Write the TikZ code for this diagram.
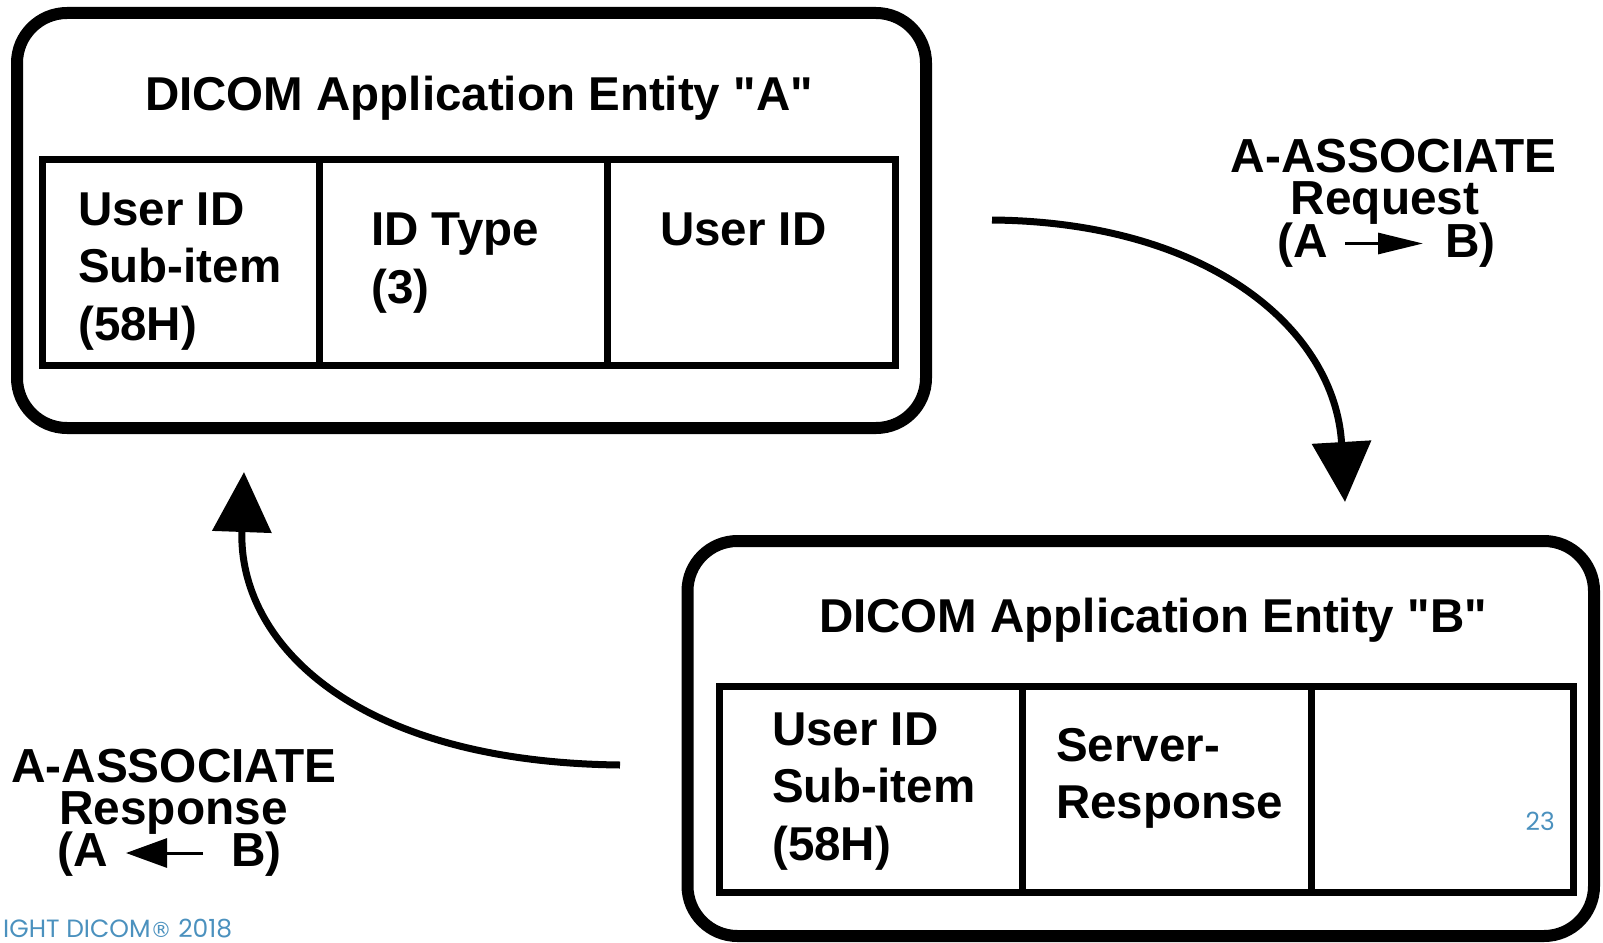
\documentclass[tikz,border=0pt]{standalone}
\usepackage{fontspec}
\setmainfont{Liberation Sans}[Ligatures=TeXOff]
\newfontfamily\footfont{Poppins}
\newfontfamily\symbolfont{DejaVu Sans}
\usetikzlibrary{arrows.meta}

\definecolor{slideblue}{RGB}{75,145,190}

\tikzset{
  entity/.style={draw, line width=12pt, rounded corners=50pt, inner sep=0pt},
  cell/.style={draw, line width=7pt, inner sep=0pt, minimum height=206pt},
  title/.style={font=\fontsize{47.5}{57}\selectfont\bfseries, anchor=base, inner sep=0pt},
  celltext/.style={font=\fontsize{47.5}{57}\selectfont\bfseries, anchor=base west, inner sep=0pt},
  msgtext/.style={font=\fontsize{47.8}{43}\selectfont\bfseries, anchor=base, inner sep=0pt},
  flow/.style={line width=7pt, -{Triangle[length=60pt,width=58pt]}},
  textarrow/.style={line width=3pt},
  note/.style={font=\footfont\fontsize{25}{29}\selectfont, text=slideblue, inner sep=0pt},
}

\begin{document}
\begin{tikzpicture}[x=1pt,y=-1pt]
\useasboundingbox (0,0) rectangle (1603,942);

% Application entity A
\node[entity, minimum width=909pt, minimum height=415pt] (boxA) at (471.5,220.5) {};
\node[title] (titleA) at (479,110) {DICOM Application Entity "A"};
\node[cell, minimum width=277pt] (cellA1) at (180.5,262) {};
\node[cell, minimum width=288pt] (cellA2) at (463,262) {};
\node[cell, minimum width=288pt] (cellA3) at (751,262) {};
\node[celltext] (a1l1) at (78,225) {User ID};
\node[celltext] (a1l2) at (78,282.5) {Sub-item};
\node[celltext] (a1l3) at (78,340) {(58H)};
\node[celltext] (a2l1) at (371,245) {ID Type};
\node[celltext] (a2l2) at (371,303) {(3)};
\node[celltext] (a3l1) at (660,245) {User ID};

% Application entity B
\node[entity, minimum width=906.5pt, minimum height=395pt] (boxB) at (1140.75,738.5) {};
\node[title] (titleB) at (1153,632) {DICOM Application Entity "B"};
\node[cell, minimum width=303pt] (cellB1) at (870.5,789) {};
\node[cell, minimum width=289pt] (cellB2) at (1166.5,789) {};
\node[cell, minimum width=262pt] (cellB3) at (1442,789) {};
\node[celltext] (b1l1) at (772,745) {User ID};
\node[celltext] (b1l2) at (772,802) {Sub-item};
\node[celltext] (b1l3) at (772,860) {(58H)};
\node[celltext] (b2l1) at (1056,761) {Server-};
\node[celltext] (b2l2) at (1056,818) {Response};

% Request message A -> B
\coordinate (reqStart) at (992,220);
\coordinate (reqEnd) at (1345,502);
\draw[flow] (reqStart) .. controls (1210,222) and (1335,330) .. (reqEnd);
\node[msgtext] (reqL1) at (1393.5,172) {A-ASSOCIATE};
\node[msgtext] (reqL2) at (1385,214.5) {Request};
\node[msgtext, anchor=base east] (reqA) at (1328,257) {(A};
\node[msgtext, anchor=base west] (reqB) at (1445,257) {B)};
\draw[textarrow, -{Triangle[length=45pt,width=21pt]}]
  ([xshift=17pt,yshift=13.5pt]reqA.base east) -- ([xshift=-22pt,yshift=13.5pt]reqB.base west);

% Response message B -> A
\coordinate (resStart) at (620,765);
\coordinate (resEnd) at (244,472);
\draw[flow] (resStart) .. controls (350,762) and (238,640) .. (resEnd);
\node[msgtext] (resL1) at (174,782) {A-ASSOCIATE};
\node[msgtext] (resL2) at (173.5,824) {Response};
\node[msgtext, anchor=base east] (resA) at (108,866) {(A};
\node[msgtext, anchor=base west] (resB) at (231,866) {B)};
\draw[textarrow, -{Triangle[length=41pt,width=29pt]}]
  ([xshift=-28pt,yshift=13pt]resB.base west) -- ([xshift=18pt,yshift=13pt]resA.base east);

% Footer
\node[note, anchor=base west] (copy) at (3,937) {IGHT DICOM{\symbolfont\fontsize{21}{24}\selectfont ®} 2018};
\node[note, anchor=base east] (page) at (1555,830) {23};
\end{tikzpicture}
\end{document}
